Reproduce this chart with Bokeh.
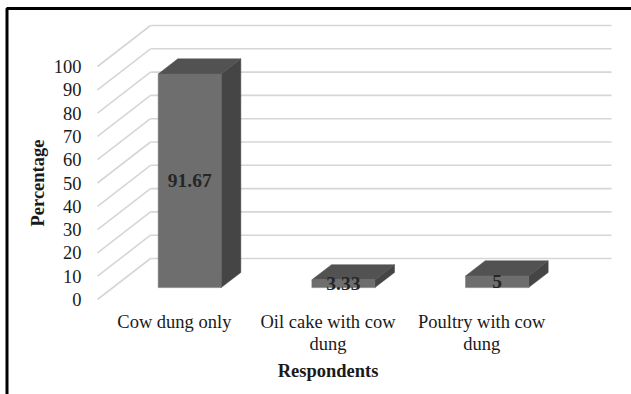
import math

from bokeh.core.properties import value
from bokeh.embed import file_html
from bokeh.models import ColumnDataSource, Range1d
from bokeh.plotting import figure
from bokeh.resources import INLINE

# ---- data -----------------------------------------------------------------
categories = ["Cow dung only", "Oil cake with cow\ndung", "Poultry with cow\ndung"]
percentages = [91.67, 3.33, 5.0]
data_labels = ["91.67", "3.33", "5"]
tick_values = [0, 10, 20, 30, 40, 50, 60, 70, 80, 90, 100]
tick_labels = [str(v) for v in tick_values]
y_title = "Percentage"
x_title = "Respondents"

# ---- layout / oblique projection ------------------------------------------
W, H = 631, 394
ORIGIN_PX = (97.0, 299.0)      # screen position of (category 0, value 0), front plane
PX_PER_CAT = 153.67            # pixels per category slot
PX_PER_VAL = 2.33              # pixels per percentage point
DEPTH_PX = (53.0, 41.0)        # front-to-back wall offset in pixels (right, up)
BAR_WIDTH = 0.41               # bar width in category units
BAR_D0, BAR_D1 = 0.29, 0.66    # bar front/back as a fraction of the depth

DX = DEPTH_PX[0] / PX_PER_CAT
DY = DEPTH_PX[1] / PX_PER_VAL
N = len(categories)


def x_at(px):
    return (px - ORIGIN_PX[0]) / PX_PER_CAT


def y_at(py):
    return (ORIGIN_PX[1] - py) / PX_PER_VAL


FONT = value("Liberation Serif")
FRONT, TOP, SIDE = "#6e6e6e", "#525252", "#454545"
GRID = "#d6d6d6"

p = figure(
    width=W, height=H,
    x_range=Range1d(x_at(0), x_at(W)),
    y_range=Range1d(y_at(H), y_at(0)),
    x_axis_location=None, y_axis_location=None,
    min_border=0, toolbar_location=None, output_backend="svg",
)
p.grid.visible = False
p.outline_line_color = None
p.background_fill_color = "white"
p.border_fill_color = "white"

# ---- walls: gridlines on the side wall and the back wall ------------------
p.segment(x0=[0.0] * len(tick_values), y0=tick_values,
          x1=[DX] * len(tick_values), y1=[v + DY for v in tick_values],
          line_color=GRID, line_width=1.6)
p.segment(x0=[DX] * len(tick_values), y0=[v + DY for v in tick_values],
          x1=[N + DX] * len(tick_values), y1=[v + DY for v in tick_values],
          line_color=GRID, line_width=1.6)

# ---- 3-D bars ---------------------------------------------------------------
front = dict(left=[], right=[], bottom=[], top=[])
top_xs, top_ys, side_xs, side_ys = [], [], [], []
for i, v in enumerate(percentages):
    L = i + 0.5 - BAR_WIDTH / 2
    R = i + 0.5 + BAR_WIDTH / 2
    fx0, fy0 = BAR_D0 * DX, BAR_D0 * DY
    bx0, by0 = BAR_D1 * DX, BAR_D1 * DY
    front["left"].append(L + fx0)
    front["right"].append(R + fx0)
    front["bottom"].append(fy0)
    front["top"].append(v + fy0)
    top_xs.append([L + fx0, R + fx0, R + bx0, L + bx0])
    top_ys.append([v + fy0, v + fy0, v + by0, v + by0])
    side_xs.append([R + fx0, R + bx0, R + bx0, R + fx0])
    side_ys.append([fy0, by0, v + by0, v + fy0])

p.patches(xs=side_xs, ys=side_ys, fill_color=SIDE, line_color=SIDE, line_width=0.5)
p.patches(xs=top_xs, ys=top_ys, fill_color=TOP, line_color=TOP, line_width=0.5)
p.quad(source=ColumnDataSource(front), left="left", right="right",
       bottom="bottom", top="top", fill_color=FRONT, line_color=FRONT, line_width=0.5)

# value labels in the middle of each bar's front face
label_src = ColumnDataSource(dict(
    x=[i + 0.5 + BAR_D0 * DX for i in range(N)],
    y=[v / 2 + BAR_D0 * DY for v in percentages],
    text=data_labels,
))
p.text(x="x", y="y", text="text", source=label_src, text_align="center",
       text_baseline="middle", text_font=FONT, text_font_style="bold",
       text_font_size="19.5px", text_color="#262626")

# ---- axes text ----------------------------------------------------------------
p.text(x=[0.0] * len(tick_values), y=tick_values, text=tick_labels,
       x_offset=-16, text_align="right", text_baseline="middle",
       text_font=FONT, text_font_size="18.5px", text_color="#1a1a1a")
p.text(x=[i + 0.5 for i in range(N)], y=[0.0] * N, text=categories,
       y_offset=12, text_align="center", text_baseline="top",
       text_line_height=1.12, text_font=FONT, text_font_size="18.5px",
       text_color="#1a1a1a")
p.text(x=[N / 2], y=[0.0], text=[x_title], y_offset=71, text_align="center",
       text_baseline="middle", text_font=FONT, text_font_style="bold",
       text_font_size="18.5px", text_color="#1a1a1a")
p.text(x=[0.0], y=[50.0], text=[y_title], x_offset=-60, angle=math.pi / 2,
       text_align="center", text_baseline="middle", text_font=FONT,
       text_font_style="bold", text_font_size="18.5px", text_color="#1a1a1a")

# ---- chart border (top and left edges) -----------------------------------------
p.line(x=[x_at(6.5), x_at(6.5), x_at(W + 5)], y=[y_at(H + 5), y_at(8), y_at(8)],
       line_color="black", line_width=3)

open("out.html", "w").write(file_html(p, INLINE))
